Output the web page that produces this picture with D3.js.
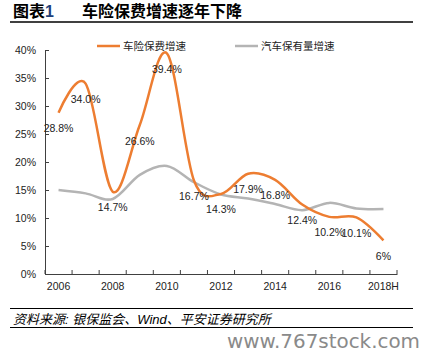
<!DOCTYPE html>
<html>
<head>
<meta charset="utf-8">
<script src="https://cdn.jsdelivr.net/npm/d3@7"></script>
<style>
  body { margin: 0; background: #fff; }
  svg { display: block; }
</style>
</head>
<body>
<svg id="chart" width="432" height="360"></svg>
<script>
const categories = ["2006","2007","2008","2009","2010","2011","2012","2013","2014","2015","2016","2017","2018H"];
const premiumGrowth = [28.8, 34.0, 14.7, 26.6, 39.4, 16.7, 14.3, 17.9, 16.8, 12.4, 10.2, 10.1, 6];
const premiumLabels = ["28.8%","34.0%","14.7%","26.6%","39.4%","16.7%","14.3%","17.9%","16.8%","12.4%","10.2%","10.1%","6%"];
const vehicleGrowth = [15.0, 14.4, 13.4, 17.7, 19.3, 16.4, 14.2, 13.5, 12.5, 11.4, 12.7, 11.7, 11.6];
const yTicks = [0, 5, 10, 15, 20, 25, 30, 35, 40];
const xTickLabels = ["2006","2008","2010","2012","2014","2016","2018H"];
const seriesNames = ["车险保费增速", "汽车保有量增速"];

const svg = d3.select("#chart");
const latin = "'Liberation Sans', Arial, sans-serif";
const cjk = "'Liberation Sans', 'Noto Sans CJK SC', sans-serif";

const x = d3.scaleBand().domain(categories).range([45, 397]).padding(0);
const y = d3.scaleLinear().domain([0, 40]).range([274, 50]);
const cx = d => x(d) + x.bandwidth() / 2;

// Title
svg.append("text").attr("x", 13).attr("y", 17)
  .style("font-family", cjk).style("font-weight", "bold").style("font-size", "16px")
  .attr("fill", "#000")
  .call(t => { t.append("tspan").text("图表"); t.append("tspan").attr("fill", "#1F3F7A").text("1"); });
svg.append("text").attr("x", 82).attr("y", 17)
  .style("font-family", cjk).style("font-weight", "bold").style("font-size", "16px")
  .attr("fill", "#000").text("车险保费增速逐年下降");
svg.append("line").attr("x1", 10).attr("x2", 413).attr("y1", 22).attr("y2", 22)
  .attr("stroke", "#000").attr("stroke-width", 1.5);

// Y axis
const yAxis = d3.axisLeft(y).tickValues(yTicks).tickFormat(d => d + "%")
  .tickSizeInner(-4).tickSizeOuter(0).tickPadding(9);
const gy = svg.append("g").attr("transform", "translate(45,0)").call(yAxis);
gy.select(".domain").attr("stroke", "#404040");
gy.selectAll(".tick line").attr("stroke", "#404040");
gy.selectAll("text").style("font-family", latin).style("font-size", "10.5px").attr("fill", "#222");

// X axis
const xAxis = d3.axisBottom(x).tickValues(xTickLabels).tickSize(0).tickPadding(9);
const gx = svg.append("g").attr("transform", "translate(0,274)").call(xAxis);
gx.select(".domain").attr("stroke", "#404040");
gx.selectAll("text").style("font-family", latin).style("font-size", "10.5px").attr("fill", "#222");
const edges = categories.map(c => x(c)).concat([x.range()[1]]);
gx.selectAll(".edge").data(edges).enter().append("line")
  .attr("x1", d => d).attr("x2", d => d).attr("y1", 0).attr("y2", -4)
  .attr("stroke", "#404040");

// Lines
const line = d3.line().x((d, i) => cx(categories[i])).y(d => y(d)).curve(d3.curveCardinal.tension(0));
svg.append("path").datum(vehicleGrowth).attr("d", line)
  .attr("fill", "none").attr("stroke", "#B4B4B4").attr("stroke-width", 2.5);
svg.append("path").datum(premiumGrowth).attr("d", line)
  .attr("fill", "none").attr("stroke", "#ED7D31").attr("stroke-width", 2.5);

// Data labels
svg.selectAll(".lbl").data(premiumGrowth).enter().append("text")
  .attr("x", (d, i) => cx(categories[i]))
  .attr("y", d => y(d) + 19.5)
  .attr("text-anchor", "middle")
  .style("font-family", latin).style("font-size", "10.5px").attr("fill", "#222")
  .text((d, i) => premiumLabels[i]);

// Legend
const legendColors = ["#ED7D31", "#B4B4B4"];
const legendX = [97, 235];
seriesNames.forEach((n, i) => {
  svg.append("line").attr("x1", legendX[i]).attr("x2", legendX[i] + 23).attr("y1", 46).attr("y2", 46)
    .attr("stroke", legendColors[i]).attr("stroke-width", 2.5);
  svg.append("text").attr("x", legendX[i] + 26).attr("y", 50)
    .style("font-family", cjk).style("font-size", "10.5px").attr("fill", "#222").text(n);
});

// Source
svg.append("line").attr("x1", 10).attr("x2", 413).attr("y1", 308.5).attr("y2", 308.5).attr("stroke", "#000").attr("stroke-width", 1);
svg.append("text").attr("x", 13).attr("y", 324)
  .style("font-family", cjk).style("font-size", "13px").style("font-style", "italic").attr("fill", "#000")
  .text("资料来源: 银保监会、Wind、平安证券研究所");
svg.append("line").attr("x1", 10).attr("x2", 413).attr("y1", 327.5).attr("y2", 327.5).attr("stroke", "#000").attr("stroke-width", 1);

// Watermark
svg.append("text").attr("x", 227).attr("y", 348)
  .attr("textLength", 193).attr("lengthAdjust", "spacingAndGlyphs")
  .style("font-family", "'DejaVu Sans', sans-serif").style("font-size", "19px").attr("fill", "#8A8A8A")
  .text("www.767stock.com");
</script>
</body>
</html>
